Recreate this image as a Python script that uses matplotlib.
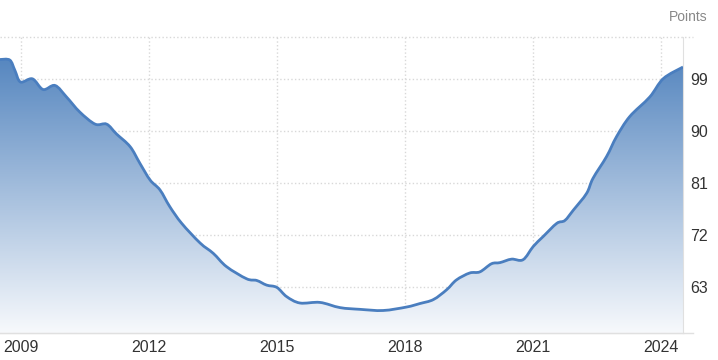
import matplotlib
matplotlib.use('Agg')
import matplotlib.pyplot as plt
import numpy as np
from matplotlib.colors import LinearSegmentedColormap
from matplotlib.path import Path
from matplotlib.patches import PathPatch

# decimal years and index values
years = [2008.51, 2008.74, 2008.86, 2008.99, 2009.27, 2009.52, 2009.80, 2010.07,
         2010.38, 2010.74, 2011.01, 2011.24, 2011.56, 2011.79, 2012.03, 2012.26,
         2012.49, 2012.77, 2013.20, 2013.51, 2013.82, 2014.29, 2014.53, 2014.76,
         2015.00, 2015.23, 2015.54, 2016.01, 2016.48, 2016.95, 2017.49, 2018.04,
         2018.35, 2018.67, 2018.98, 2019.21, 2019.52, 2019.76, 2020.03, 2020.23,
         2020.50, 2020.77, 2021.01, 2021.24, 2021.56, 2021.75, 2021.95, 2022.26,
         2022.41, 2022.73, 2022.96, 2023.27, 2023.74, 2024.06, 2024.52]
values = [102.4, 102.3, 100.5, 98.5, 99.05, 97.2, 97.9, 95.9,
          93.3, 91.2, 91.2, 89.5, 87.3, 84.4, 81.5, 79.8,
          76.9, 74.0, 70.6, 68.8, 66.5, 64.4, 64.1, 63.3,
          62.9, 61.3, 60.2, 60.3, 59.4, 59.1, 58.9, 59.5,
          60.1, 60.8, 62.5, 64.2, 65.4, 65.6, 67.0, 67.2,
          67.8, 67.7, 70.0, 71.7, 74.0, 74.5, 76.3, 79.2,
          81.8, 85.6, 89.0, 92.5, 95.9, 99.1, 101.1]
xticks = [2009, 2012, 2015, 2018, 2021, 2024]
yticks = [63, 72, 81, 90, 99]

ymin, ymax = 55.0, 106.3
xmin, xmax = 2008.51, 2024.52
line_color = '#4a7ebf'


def smooth_path(xs, ys):
    # catmull-rom style bezier through the points (drawing only)
    pts = np.column_stack([xs, ys])
    n = len(pts)
    verts = [pts[0]]
    codes = [Path.MOVETO]
    for i in range(n - 1):
        p0 = pts[max(i - 1, 0)]
        p1 = pts[i]
        p2 = pts[i + 1]
        p3 = pts[min(i + 2, n - 1)]
        verts += [p1 + (p2 - p0) / 6, p2 - (p3 - p1) / 6, p2]
        codes += [Path.CURVE4] * 3
    return verts, codes


fig = plt.figure(figsize=(7.18, 3.6), dpi=100)
ax = fig.add_axes([0.0, 0.075, 683 / 718, 0.8222])

verts, codes = smooth_path(years, values)

# gradient fill under the curve
cmap = LinearSegmentedColormap.from_list('fade', ['#f7f9fc', '#4a7ebb'])
grad = np.linspace(0, 1, 256).reshape(-1, 1)
im = ax.imshow(grad, extent=[xmin, xmax, ymin, ymax], origin='lower',
               aspect='auto', cmap=cmap, zorder=1)
fill_path = Path(verts + [(years[-1], ymin), (years[0], ymin), (years[0], ymin)],
                 codes + [Path.LINETO, Path.LINETO, Path.CLOSEPOLY])
clip = PathPatch(fill_path, facecolor='none', edgecolor='none')
ax.add_patch(clip)
im.set_clip_path(clip)

ax.add_patch(PathPatch(Path(verts, codes), facecolor='none', edgecolor=line_color,
                       lw=2, zorder=3))

ax.set_xlim(xmin, xmax)
ax.set_ylim(ymin, ymax)
ax.set_xticks(xticks)
ax.set_xticklabels([str(t) for t in xticks])
ax.set_yticks(yticks)
ax.yaxis.tick_right()
ax.tick_params(axis='both', length=0, labelsize=11.5, labelcolor='#333333',
               labelfontfamily='Liberation Sans')
ax.tick_params(axis='y', pad=5)
ax.tick_params(axis='x', pad=5)
ax.grid(True, color='#d8d8d8', linestyle=':', linewidth=1, zorder=0)
ax.set_axisbelow(True)

for s in ['top', 'left']:
    ax.spines[s].set_visible(False)
ax.spines['right'].set_color('#e0e0e0')
ax.spines['bottom'].set_color('#e0e0e0')

# top dotted line and extended bottom line
ax.plot([0, 1.015], [1, 1], transform=ax.transAxes, color='#d8d8d8',
        linestyle=':', lw=1, clip_on=False)
ax.plot([0, 1.015], [0, 0], transform=ax.transAxes, color='#e0e0e0',
        lw=1, clip_on=False)

fig.text(0.986, 0.953, 'Points', ha='right', va='center', fontsize=10,
         color='#888888', family='Liberation Sans')

fig.savefig('out.png', dpi=100)
